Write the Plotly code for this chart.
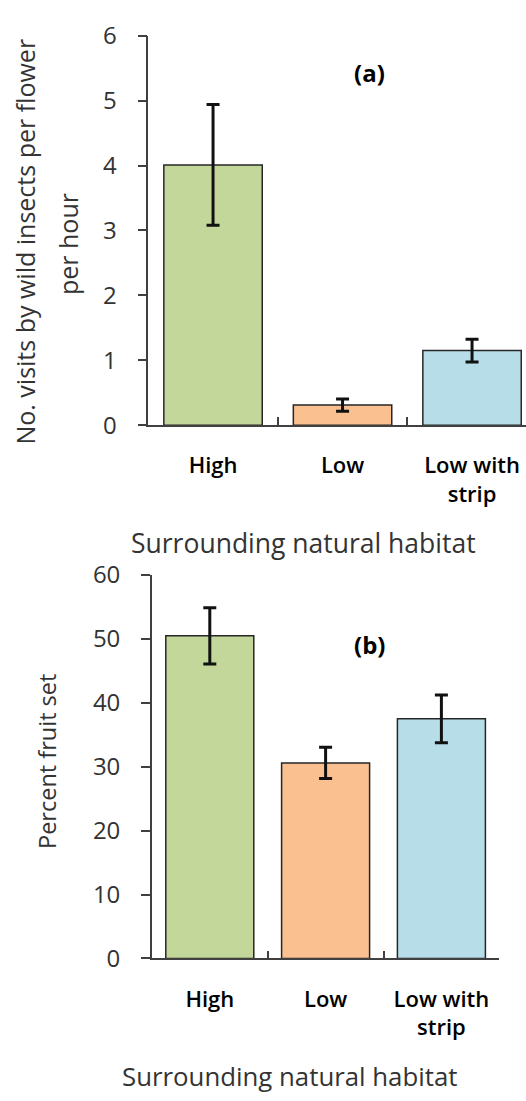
import plotly.graph_objects as go

W, H = 526, 1101

categories = ["High", "Low", "Low with<br>strip"]
colors = ["#C4D79B", "#FAC090", "#B7DEE8"]

visits = [4.01, 0.31, 1.15]
visits_err = [0.93, 0.095, 0.175]

fruit = [50.5, 30.6, 37.5]
fruit_err = [4.4, 2.45, 3.75]

y1_ticks = [0, 1, 2, 3, 4, 5, 6]
y2_ticks = [0, 10, 20, 30, 40, 50, 60]

FONT = "Open Sans"
AX = "#404040"

def px(x):
    return x / W

def py(y):
    return 1 - y / H

fig = go.Figure()

fig.add_trace(go.Bar(
    x=categories, y=visits,
    marker=dict(color=colors, line=dict(color="#262626", width=1.5)),
    error_y=dict(type="data", array=visits_err, color="#111111", thickness=3, width=6.5),
    xaxis="x", yaxis="y", showlegend=False, hoverinfo="skip",
))
fig.add_trace(go.Bar(
    x=categories, y=fruit,
    marker=dict(color=colors, line=dict(color="#262626", width=1.5)),
    error_y=dict(type="data", array=fruit_err, color="#111111", thickness=3, width=6.5),
    xaxis="x2", yaxis="y2", showlegend=False, hoverinfo="skip",
))

common_x = dict(
    type="category", showline=True, linecolor=AX, linewidth=1.5,
    ticks="inside", tickson="boundaries", ticklen=8, tickcolor=AX, tickwidth=1.5,
    showgrid=False, zeroline=False,
    tickfont=dict(family=FONT, size=22, color="#000000", weight=600),
    ticklabelstandoff=20, fixedrange=True,
)
common_y = dict(
    showline=True, linecolor=AX, linewidth=1.5,
    ticks="outside", ticklen=9, tickcolor=AX, tickwidth=1.5,
    showgrid=False, zeroline=False,
    tickfont=dict(family=FONT, size=24, color="#333333"),
    ticklabelstandoff=16, fixedrange=True,
)

# top panel: category width 129.5 px, left edge at 148.3 px, axis runs past the right edge
top_left, top_cw = 148.3, 129.5
top_right_val = -0.5 + (W - top_left) / top_cw
bot_left, bot_right = 151.9, 499.3

fig.update_layout(
    width=W, height=H,
    margin=dict(l=0, r=0, t=0, b=0),
    paper_bgcolor="white", plot_bgcolor="white",
    bargap=0.24,
    xaxis=dict(common_x, domain=[px(top_left), 1.0], range=[-0.5, top_right_val], anchor="y"),
    yaxis=dict(common_y, domain=[py(419.8), py(18.3)], range=[0, 6], tickvals=y1_ticks, anchor="x"),
    xaxis2=dict(common_x, domain=[px(bot_left), px(bot_right)], range=[-0.5, 2.5], anchor="y2"),
    yaxis2=dict(common_y, domain=[py(969.5), py(574.3)], range=[0, 60], tickvals=y2_ticks, anchor="x2"),
)

def ann(text, x, y, size, bold=False, angle=0, color="#333333"):
    fig.add_annotation(
        text=text, x=px(x), y=py(y), xref="paper", yref="paper",
        xanchor="center", yanchor="middle", showarrow=False, textangle=angle,
        font=dict(family=FONT, size=size, color=color, weight="bold" if bold else "normal"),
    )

ann("(a)", 369, 56, 24, bold=True, color="#000000")
ann("(b)", 369, 646, 24, bold=True, color="#000000")
ann("Surrounding natural habitat", 303.3, 541, 26.5)
ann("Surrounding natural habitat", 289.2, 1091, 25.8)
ann("No. visits by wild insects per flower", 25, 230.5, 25, angle=-90)
ann("per hour", 68, 233, 25, angle=-90)
ann("Percent fruit set", 47, 767, 23.5, angle=-90)

fig.write_html("out.html", config={"displayModeBar": False},
               post_script="document.body.style.margin='0px';")
